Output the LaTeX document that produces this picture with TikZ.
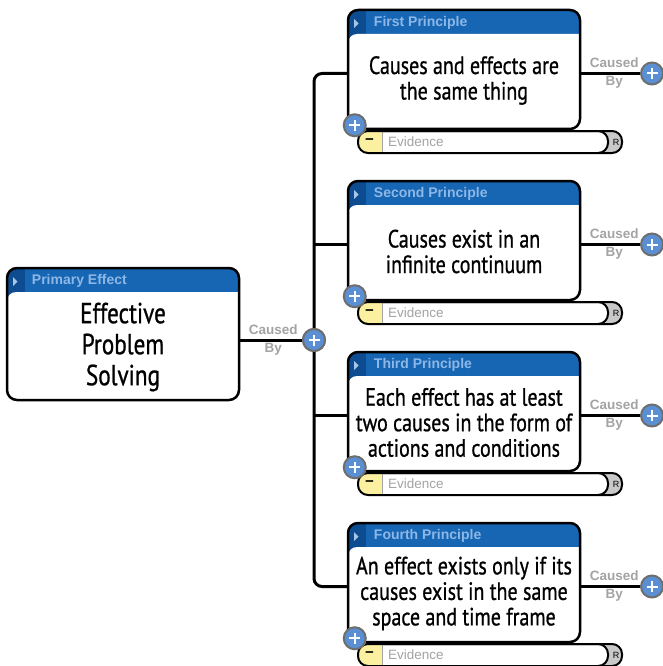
\documentclass[tikz,border=0pt]{standalone}
\usepackage{fontspec}
\setmainfont{Liberation Sans}
\newfontfamily\bodyfont[FakeStretch=0.8,FakeBold=0.8]{PT Sans}
\usetikzlibrary{calc}

\definecolor{hdrblue}{HTML}{1766B3}
\definecolor{stripblue}{HTML}{0E4C91}
\definecolor{hdrtext}{HTML}{8DB7E6}
\definecolor{tripale}{HTML}{A8C6E8}
\definecolor{plusblue}{HTML}{5A8FD4}
\definecolor{ringgray}{HTML}{6E6E6E}
\definecolor{labelgray}{HTML}{A3A3A3}
\definecolor{evyellow}{HTML}{FBEFA0}
\definecolor{evgray}{HTML}{C9C9C9}

\tikzset{
  card/.style={draw=black, line width=2.5pt, fill=white, rounded corners=10pt,
    minimum width=232pt, minimum height=#1, inner sep=0pt,
    path picture={
      \fill[hdrblue, sharp corners] (path picture bounding box.north west)
        rectangle ([yshift=-36pt]path picture bounding box.north east);
      \fill[stripblue, sharp corners] (path picture bounding box.north west)
        rectangle ([xshift=18pt,yshift=-36pt]path picture bounding box.north west);
      \fill[white, rounded corners=9pt] ([yshift=-24pt]path picture bounding box.north west)
        rectangle ([xshift=30pt,yshift=-30pt]path picture bounding box.south east);
      \fill[tripale, sharp corners] ([xshift=6pt,yshift=-9pt]path picture bounding box.north west)
        -- ++(0,-9pt) -- ++(4.5pt,4.5pt) -- cycle;
    }},
  cardtitle/.style={anchor=west, text=hdrtext, font=\bfseries\fontsize{14}{15}\selectfont, inner sep=0pt},
  cardtext/.style={align=center, inner sep=0pt},
  evbar/.style={draw=black, line width=2pt, fill=evgray, rounded corners=10pt,
    minimum width=264pt, minimum height=22pt, inner sep=0pt,
    path picture={
      \fill[white, draw=black, line width=2pt] ([xshift=-30pt]path picture bounding box.north west)
        rectangle ([xshift=-14pt]path picture bounding box.south east);
      \fill[evyellow, sharp corners] (path picture bounding box.north west)
        rectangle ([xshift=24pt]path picture bounding box.south west);
      \draw[labelgray, line width=0.8pt] ([xshift=24pt]path picture bounding box.north west)
        -- ([xshift=24pt]path picture bounding box.south west);
    }},
  evtext/.style={anchor=west, text=labelgray, font=\fontsize{13.5}{15}\selectfont, inner sep=0pt},
  plusbtn/.style={circle, draw=ringgray, line width=2pt, fill=plusblue, minimum size=22pt, inner sep=0pt,
    path picture={
      \draw[white, line width=2pt] ([xshift=-5.5pt]path picture bounding box.center)
        -- ([xshift=5.5pt]path picture bounding box.center);
      \draw[white, line width=2pt] ([yshift=-5.5pt]path picture bounding box.center)
        -- ([yshift=5.5pt]path picture bounding box.center);
    }},
  conn/.style={draw=black, line width=3pt},
  causelabel/.style={align=center, text=labelgray, font=\bfseries\fontsize{13.5}{18}\selectfont, inner sep=0pt},
}

\begin{document}
\begin{tikzpicture}[x=1pt, y=-1pt]
\useasboundingbox (0,0) rectangle (662,666);

% evidence bars sit beneath each principle card
\foreach \i in {1,...,4} {
  \node[evbar] (e\i) at (490, {142+171*(\i-1)}) {};
  \node[font=\bfseries\fontsize{15}{15}\selectfont, inner sep=0pt] (m\i) at ($(e\i.west)+(12.5pt,0)$) {−};
  \node[evtext] (v\i) at ($(e\i.west)+(31pt,0)$) {Evidence};
  \node[font=\fontsize{9}{10}\selectfont, inner sep=0pt] (r\i) at ($(e\i.east)+(-7pt,0)$) {R};
}

% primary effect card
\node[card=132pt] (p0) at (123, 334) {};
\node[cardtitle] (h0) at ($(p0.north west)+(26pt,-14.5pt)$) {Primary Effect};
\node[cardtext, font=\bodyfont\fontsize{29}{31}\selectfont] (t0) at ($(p0.center)+(0,-13pt)$) {Effective\\Problem\\Solving};

% principle cards
\foreach \i/\ttl/\txt in {
  1/First Principle/{Causes and effects are\\the same thing},
  2/Second Principle/{Causes exist in an\\infinite continuum},
  3/Third Principle/{Each effect has at least\\two causes in the form of\\actions and conditions},
  4/Fourth Principle/{An effect exists only if its\\causes exist in the same\\space and time frame}} {
  \node[card=119pt] (p\i) at (464, {69.5+171*(\i-1)}) {};
  \node[cardtitle] (h\i) at ($(p\i.north west)+(27pt,-14.5pt)$) {\ttl};
  \node[cardtext, font=\bodyfont\fontsize{25}{25.5}\selectfont] (t\i) at ($(p\i.center)+(0,-11pt)$) {\txt};
}

% connector buttons
\node[plusbtn] (c0) at (314, 340) {};
\foreach \i in {1,...,4} {
  \coordinate (c\i) at (652, {73.5+171*(\i-1)});
}

% trunk and branches
\draw[conn] (p0.east |- c0) -- (c0);
\draw[conn, rounded corners=8pt] (p1.west |- c1) -| (c0.center) |- (p4.west |- c4);
\draw[conn] (c0.center |- c2) -- (p2.west |- c2);
\draw[conn] (c0.center |- c3) -- (p3.west |- c3);
\node[plusbtn] (c0b) at (c0) {};
\node[causelabel] (l0) at ($(p0.east |- c0)+(33pt,0)$) {Caused\\By};

\foreach \i in {1,...,4} {
  \node[plusbtn] (b\i) at (c\i) {};
  \draw[conn] (p\i.east |- c\i) -- (b\i);
  \node[causelabel] (l\i) at ($(p\i.east |- c\i)+(33pt,0)$) {Caused\\By};
  \node[plusbtn] (a\i) at ($(p\i.south west)+(8pt,5pt)$) {};
}
\end{tikzpicture}
\end{document}
